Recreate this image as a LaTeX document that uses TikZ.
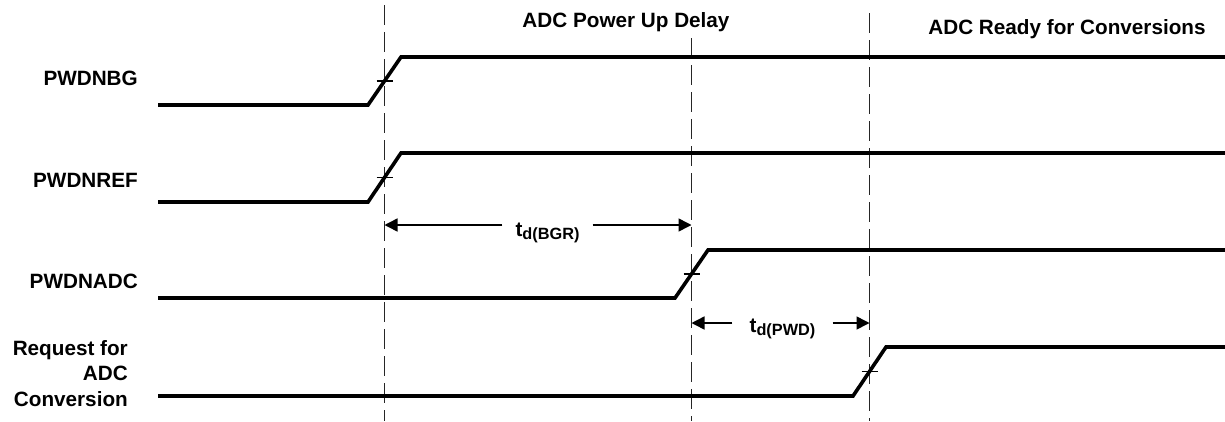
\documentclass[tikz,border=0pt]{standalone}
\usepackage{fontspec}
\setmainfont{Liberation Sans}
\usetikzlibrary{arrows.meta,calc}
\begin{document}
\begin{tikzpicture}[x=1pt,y=-1pt,
  sig/.style={line width=3.6pt,line join=miter},
  guide/.style={line width=1.7pt,black!85,dash pattern=on 20pt off 7pt},
  tickmark/.style={line width=1.2pt},
  dim/.style={line width=1.5pt,-{Triangle[length=13pt,width=13pt]}},
  lbl/.style={font=\bfseries\fontsize{20.7}{25.5}\selectfont,inner sep=0pt},
]
\useasboundingbox (0,0) rectangle (1225,421);

% guides
\coordinate (g1t) at (384.5,5);   \coordinate (g1b) at (384.5,421);
\coordinate (g2t) at (691.5,38);  \coordinate (g2b) at (691.5,421);
\coordinate (g3t) at (869.5,13);  \coordinate (g3b) at (869.5,421);
\draw[guide] (g1t) -- (g1b);
\draw[guide] (g2t) -- (g2b);
\draw[guide] (g3t) -- (g3b);

% signals
\coordinate (bg0) at (158,105); \coordinate (bg1) at (368,105);
\coordinate (bg2) at (401,57);  \coordinate (bg3) at (1226,57);
\coordinate (rf0) at (158,202); \coordinate (rf1) at (368,202);
\coordinate (rf2) at (401,153); \coordinate (rf3) at (1226,153);
\coordinate (ad0) at (158,298); \coordinate (ad1) at (675,298);
\coordinate (ad2) at (708,250); \coordinate (ad3) at (1226,250);
\coordinate (rq0) at (158,396); \coordinate (rq1) at (853,396);
\coordinate (rq2) at (886,347); \coordinate (rq3) at (1226,347);
\draw[sig] (bg0) -- (bg1) -- (bg2) -- (bg3);
\draw[sig] (rf0) -- (rf1) -- (rf2) -- (rf3);
\draw[sig] (ad0) -- (ad1) -- (ad2) -- (ad3);
\draw[sig] (rq0) -- (rq1) -- (rq2) -- (rq3);

% crossing ticks
\foreach \a/\b/\m in {bg1/bg2/bgm, rf1/rf2/rfm, ad1/ad2/adm, rq1/rq2/rqm}{
  \coordinate (\m) at ($(\a)!0.5!(\b)$);
  \draw[tickmark] ([xshift=-8pt]\m) -- ([xshift=8pt]\m);
}

% signal names
\node[lbl,anchor=base east] (nbg)  at (138,85)  {PWDNBG};
\node[lbl,anchor=base east] (nref) at (138,187) {PWDNREF};
\node[lbl,anchor=base east] (nadc) at (138,288) {PWDNADC};
\node[lbl,anchor=base east,align=right] (nreq) at (128,406) {Request for\\ADC\\Conversion};

% titles
\node[lbl,anchor=base] (tpu)  at (626,27)  {ADC Power Up Delay};
\node[lbl,anchor=base] (trdy) at (1067,34) {ADC Ready for Conversions};

% dimensions
\coordinate (d1l) at (384.5,225); \coordinate (d1r) at (691.5,225);
\node[lbl,anchor=base,inner xsep=13pt] (tbgr) at (547.5,236)
  {t\raisebox{-3.5pt}{\fontsize{16.3}{18}\selectfont d(BGR)}};
\draw[dim] (tbgr.west |- d1l) -- (d1l);
\draw[dim] (tbgr.east |- d1r) -- (d1r);

\coordinate (d2l) at (691.5,323); \coordinate (d2r) at (869.5,323);
\node[lbl,anchor=base,inner xsep=17pt] (tpwd) at (782.5,332)
  {t\raisebox{-3.5pt}{\fontsize{16.3}{18}\selectfont d(PWD)}};
\draw[dim] (tpwd.west |- d2l) -- (d2l);
\draw[dim] (tpwd.east |- d2r) -- (d2r);
\end{tikzpicture}
\end{document}
